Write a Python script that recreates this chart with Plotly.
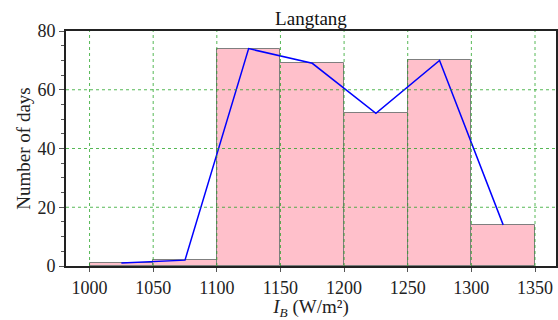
import plotly.graph_objects as go

# Histogram of daily irradiance at Langtang
bin_edges = [1000, 1050, 1100, 1150, 1200, 1250, 1300, 1350]
bin_counts = [1, 2, 74, 69, 52, 70, 14]

# Frequency polygon through bin centres
poly_x = [1025, 1075, 1125, 1175, 1225, 1275, 1325]
poly_y = [1, 2, 74, 69, 52, 70, 14]

x_ticks = [1000, 1050, 1100, 1150, 1200, 1250, 1300, 1350]
y_ticks = [0, 20, 40, 60, 80]

centers = [(a + b) / 2 for a, b in zip(bin_edges[:-1], bin_edges[1:])]
widths = [b - a for a, b in zip(bin_edges[:-1], bin_edges[1:])]

FONT = "Liberation Serif"
GRID = "rgba(30,160,30,0.75)"

fig = go.Figure()
fig.add_trace(go.Bar(
    x=centers, y=bin_counts, width=widths,
    marker=dict(color="pink", line=dict(color="#7f7f7f", width=1)),
    showlegend=False,
))
fig.add_trace(go.Scatter(
    x=poly_x, y=poly_y, mode="lines",
    line=dict(color="#0000ff", width=1.5),
    showlegend=False,
))

# dotted grid drawn on top of the bars
shapes = []
for xv in x_ticks:
    shapes.append(dict(type="line", xref="x", yref="paper", x0=xv, x1=xv, y0=0, y1=1,
                       line=dict(color=GRID, width=1, dash="dot"), layer="above"))
for yv in y_ticks[1:-1]:
    shapes.append(dict(type="line", xref="paper", yref="y", x0=0, x1=1, y0=yv, y1=yv,
                       line=dict(color=GRID, width=1, dash="dot"), layer="above"))

fig.update_layout(
    width=558, height=320,
    margin=dict(l=66, r=2, t=31, b=54),
    paper_bgcolor="white", plot_bgcolor="white",
    font=dict(family=FONT, size=18, color="#222"),
    bargap=0,
    shapes=shapes,
    title=dict(text="Langtang", x=0.5, xref="paper", xanchor="center",
               y=1, yref="paper", yanchor="bottom", pad=dict(b=6),
               font=dict(family=FONT, size=19, color="#111")),
    xaxis=dict(
        range=[981.5, 1366.5], tickvals=x_ticks, showgrid=False, zeroline=False,
        automargin=False,
        ticks="outside", ticklen=4, tickcolor="#555",
        showline=True, linecolor="#222", linewidth=2, mirror=True,
        title=dict(text="<i>I</i><sub><i>B</i></sub> (W/m²)",
                   standoff=8, font=dict(family=FONT, size=19)),
    ),
    yaxis=dict(
        range=[0, 80], tickvals=y_ticks, showgrid=False, zeroline=False,
        automargin=False,
        ticks="outside", ticklen=5, tickcolor="#555",
        minor=dict(dtick=5, ticks="outside", ticklen=3, tickcolor="#555", showgrid=False),
        showline=True, linecolor="#222", linewidth=2, mirror=True,
        title=dict(text="Number of days", standoff=2, font=dict(family=FONT, size=19)),
    ),
)

fig.write_html("out.html")
